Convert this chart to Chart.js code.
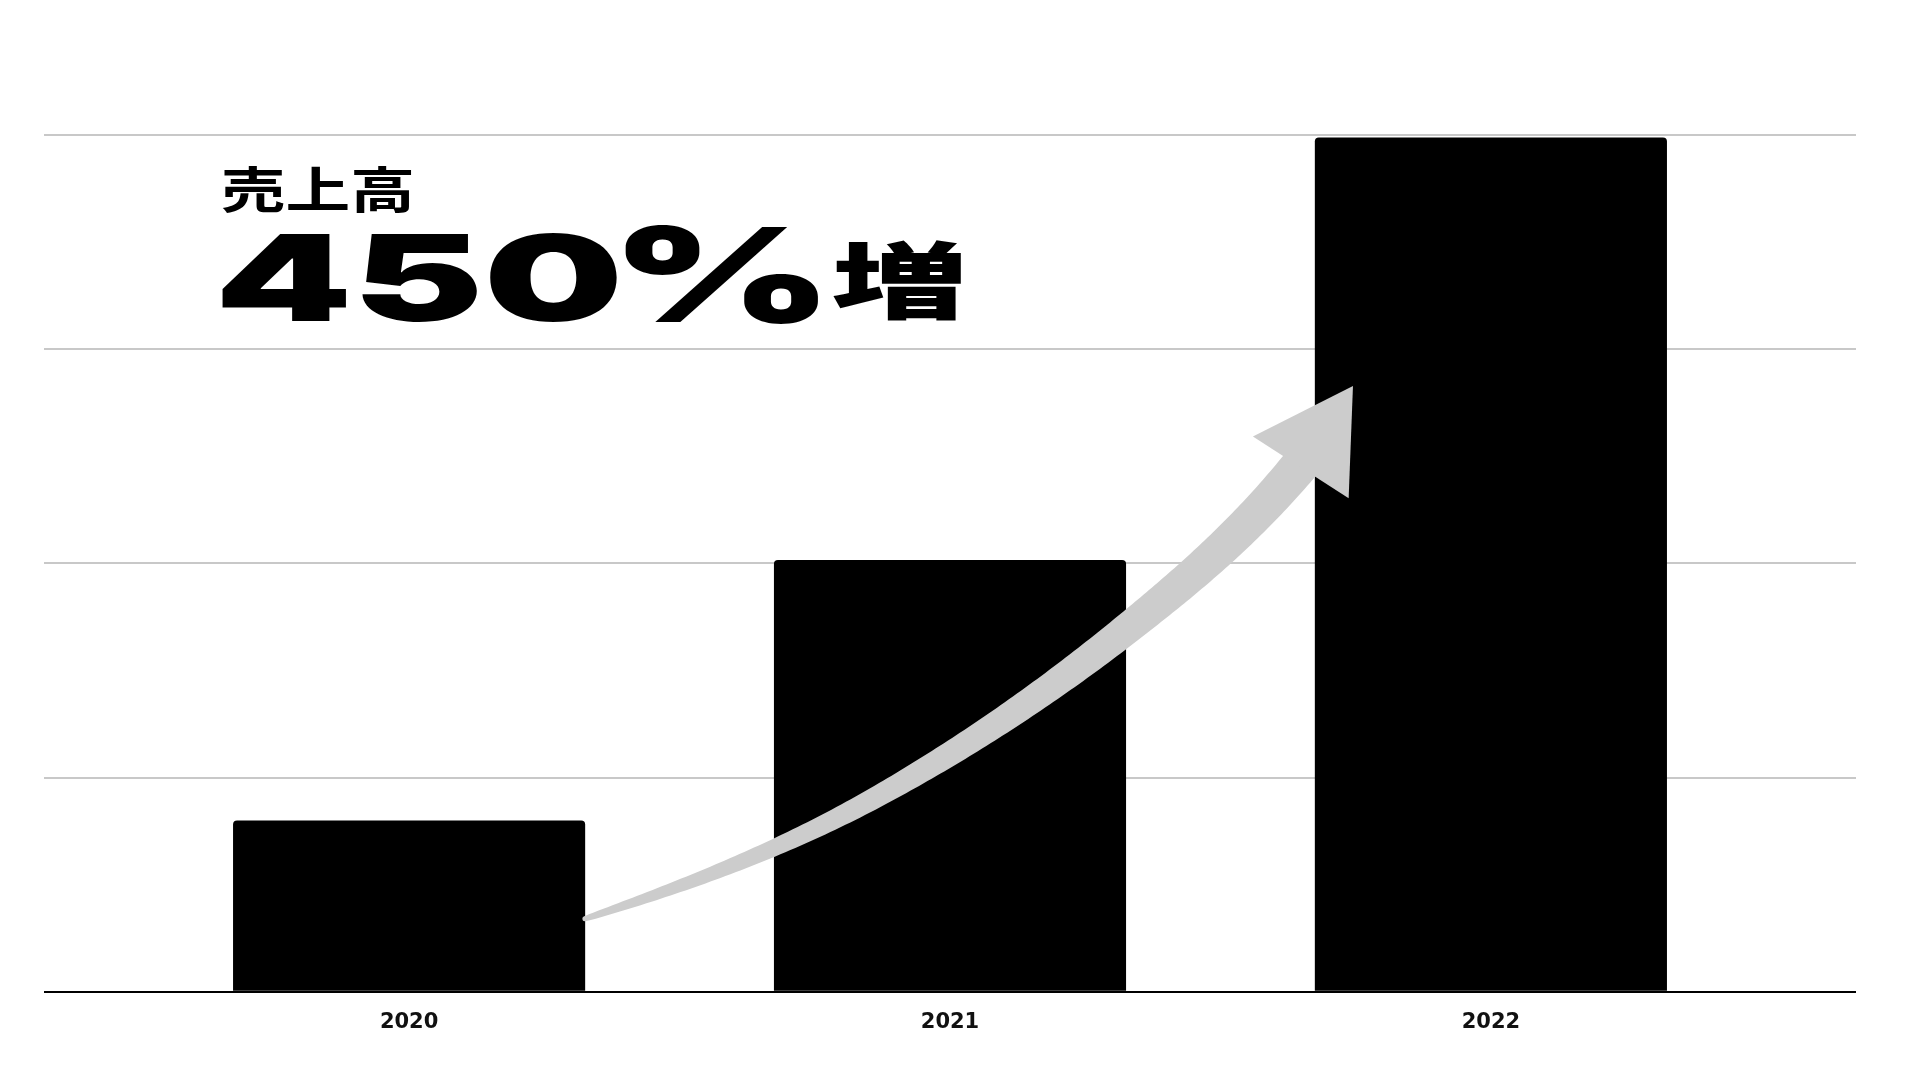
<!DOCTYPE html>
<html lang="ja">

<head>
    <meta charset="UTF-8">
    <meta name="viewport" content="width=device-width, initial-scale=1.0">
    <title>売上高</title>
    <style>
        html, body { margin: 0; padding: 0; background: #fff; }
        #contenedor { width: 1920px; height: 1080px; position: relative; }
    </style>
</head>

<body>
    <div id="contenedor">
        <canvas id="grafico"></canvas>
    </div>

    <script src="https://cdn.jsdelivr.net/npm/chart.js"></script>
    <script>
        // datos
        const years = ['2020', '2021', '2022']
        const sales = [20, 50.4, 99.7]
        const yTicks = [0, 25, 50, 75, 100]
        const titleSmall = '売上高'
        const titleNumber = '450'
        const titlePercent = '%'
        const titleSuffix = '増'

        // flecha decorativa, en unidades del grafico: [indice de año, valor, pendiente]
        const arrowLine = [[0.325, 8.52, 20.8], [0.871, 22.98, 35.3], [1.329, 42.46, 50.5], [1.645, 61.30, 75.7], [1.686, 65.20, 94.6]]
        const arrowHead = [[1.560, 64.8], [1.745, 70.7], [1.737, 57.6]]

        // hermite cubico con pendientes dadas, en pixeles
        function hermite(pts, n) {
            let out = []
            for (let i = 0; i < pts.length - 1; i++) {
                const p = pts[i], q = pts[i + 1], h = q[0] - p[0]
                for (let s = 0; s < n; s++) {
                    const t = s / n, t2 = t * t, t3 = t2 * t
                    const yy = (2 * t3 - 3 * t2 + 1) * p[1] + (t3 - 2 * t2 + t) * h * p[2] +
                        (-2 * t3 + 3 * t2) * q[1] + (t3 - t2) * h * q[2]
                    out.push([p[0] + t * h, yy])
                }
            }
            const last = pts[pts.length - 1]
            out.push([last[0], last[1]])
            return out
        }

        const arrowPlugin = {
            id: 'flecha',
            afterDatasetsDraw(chart) {
                const { ctx, scales: { x, y } } = chart
                const ratio = (y.getPixelForValue(1) - y.getPixelForValue(0)) / (x.getPixelForValue(1) - x.getPixelForValue(0))
                const pts = arrowLine.map(p => [x.getPixelForValue(p[0]), y.getPixelForValue(p[1]), p[2] * ratio])
                const N = 60
                const samples = hermite(pts, N)
                let cum = [0]
                for (let i = 1; i < samples.length; i++) {
                    cum.push(cum[i - 1] + Math.hypot(samples[i][0] - samples[i - 1][0], samples[i][1] - samples[i - 1][1]))
                }
                const baseLen = cum[(pts.length - 2) * N]
                let izq = [], der = []
                samples.forEach((p, i) => {
                    const a = samples[Math.max(i - 1, 0)], b = samples[Math.min(i + 1, samples.length - 1)]
                    const dx = b[0] - a[0], dy = b[1] - a[1], d = Math.hypot(dx, dy)
                    const nx = -dy / d, ny = dx / d
                    const w = (5 + 33 * Math.pow(Math.min(cum[i] / baseLen, 1), 0.7)) / 2
                    izq.push([p[0] + nx * w, p[1] + ny * w])
                    der.push([p[0] - nx * w, p[1] - ny * w])
                })
                ctx.save()
                ctx.fillStyle = '#cccccc'
                ctx.beginPath()
                izq.forEach((p, i) => i ? ctx.lineTo(p[0], p[1]) : ctx.moveTo(p[0], p[1]))
                der.reverse().forEach(p => ctx.lineTo(p[0], p[1]))
                ctx.closePath()
                ctx.fill()
                ctx.beginPath()
                ctx.arc(pts[0][0], pts[0][1], 2.5, 0, Math.PI * 2)
                ctx.fill()
                ctx.beginPath()
                arrowHead.forEach((p, i) => {
                    const px = x.getPixelForValue(p[0]), py = y.getPixelForValue(p[1])
                    i ? ctx.lineTo(px, py) : ctx.moveTo(px, py)
                })
                ctx.closePath()
                ctx.fill()
                ctx.restore()
            }
        }

        // texto estirado a lo ancho para llenar la caja del original
        function fitText(ctx, text, weight, family, left, right, top, bottom) {
            ctx.font = weight + ' 100px ' + family
            const m0 = ctx.measureText(text)
            const size = 100 * (bottom - top) / (m0.actualBoundingBoxAscent + m0.actualBoundingBoxDescent)
            ctx.font = weight + ' ' + size + 'px ' + family
            const m = ctx.measureText(text)
            const sx = (right - left) / (m.actualBoundingBoxLeft + m.actualBoundingBoxRight)
            ctx.save()
            ctx.translate(left + m.actualBoundingBoxLeft * sx, bottom - m.actualBoundingBoxDescent)
            ctx.scale(sx, 1)
            ctx.fillStyle = '#000'
            ctx.textBaseline = 'alphabetic'
            ctx.fillText(text, 0, 0)
            ctx.restore()
        }

        const titlePlugin = {
            id: 'titulos',
            afterDraw(chart) {
                const ctx = chart.ctx
                const cjk = '"Noto Sans CJK JP", "Noto Sans CJK SC", sans-serif'
                const latin = 'Inter, Roboto, "DejaVu Sans", sans-serif'
                fitText(ctx, titleSmall, '700', cjk, 222, 411, 167, 214)
                fitText(ctx, titleNumber, '900', latin, 221, 618, 232, 322)
                fitText(ctx, titlePercent, '900', latin, 625, 818, 226, 324)
                fitText(ctx, titleSuffix, '900', cjk, 833, 961, 241, 321)
            }
        }

        let canvaDom = document.querySelector('#grafico')
        new Chart(canvaDom, {
            type: 'bar',
            data: {
                datasets: [{
                    data: years.map((yr, i) => ({ x: i, y: sales[i] })),
                    backgroundColor: '#000000',
                    borderWidth: 0,
                    borderRadius: { topLeft: 4, topRight: 4, bottomLeft: 0, bottomRight: 0 },
                    borderSkipped: 'bottom',
                    categoryPercentage: 1,
                    barPercentage: 0.651
                }]
            },
            options: {
                responsive: true,
                maintainAspectRatio: false,
                animation: false,
                layout: { padding: { left: 44, right: 64, top: 135, bottom: 27 } },
                plugins: {
                    legend: { display: false },
                    tooltip: { enabled: false }
                },
                scales: {
                    x: {
                        type: 'linear',
                        min: -0.675,
                        max: years.length - 1 + 0.675,
                        offset: false,
                        afterBuildTicks: (scale) => { scale.ticks = years.map((yr, i) => ({ value: i })) },
                        grid: { display: false, drawTicks: false },
                        border: { display: false },
                        ticks: {
                            autoSkip: false,
                            maxRotation: 0,
                            padding: 18,
                            color: '#111',
                            font: { family: '"DejaVu Sans"', weight: 'bold', size: 21 },
                            callback: (v) => years[v]
                        }
                    },
                    y: {
                        min: yTicks[0],
                        max: yTicks[yTicks.length - 1],
                        afterBuildTicks: (scale) => { scale.ticks = yTicks.map(v => ({ value: v })) },
                        grid: {
                            drawTicks: false,
                            lineWidth: 2,
                            color: (c) => c.tick && c.tick.value === 0 ? '#000000' : '#c8c8c8'
                        },
                        border: { display: false },
                        ticks: { display: false }
                    }
                }
            },
            plugins: [arrowPlugin, titlePlugin]
        })
    </script>
</body>

</html>
